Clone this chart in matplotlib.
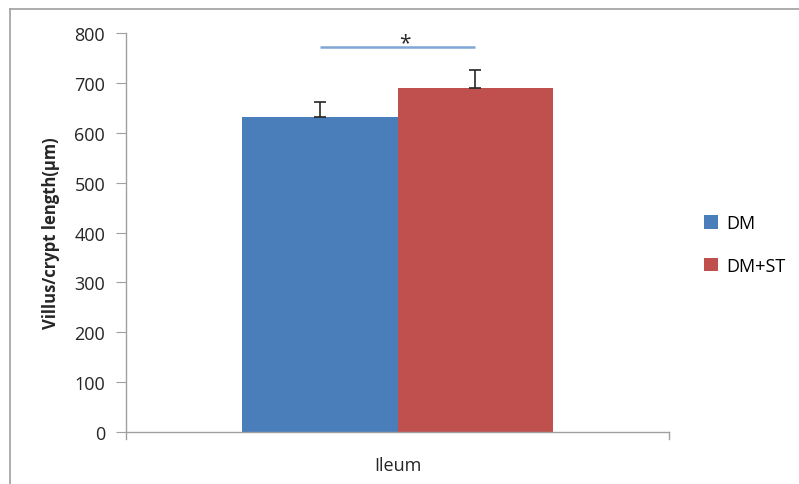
"""
Villus/crypt length in the ileum, DM vs DM+ST
"""

import matplotlib.pyplot as plt
from matplotlib.lines import Line2D

# ---------- Data ----------
groups = ["DM", "DM+ST"]
means = [631, 690]
errors = [30, 35]
category = "Ileum"
colors = ["#4A7EBB", "#C0504D"]
yticks = [0, 100, 200, 300, 400, 500, 600, 700, 800]

plt.rcParams['font.family'] = ['Open Sans', 'DejaVu Sans']

fig = plt.figure(figsize=(7.99, 4.85), dpi=100)
ax = fig.add_axes([0.1577, 0.1072, 0.6796, 0.8227])

# ---------- Bars ----------
width = 0.2855
offsets = [-width / 2, width / 2]
for g, m, e, c, off in zip(groups, means, errors, colors, offsets):
    ax.bar(off, m, width=width, color=c, label=g, zorder=2)
    ax.errorbar(off, m, yerr=[[0], [e]], fmt='none', ecolor='#262626',
                elinewidth=1.2, capsize=4, capthick=1.2, zorder=3)

# significance bar
ax.plot([-0.142, 0.142], [772, 772], color="#7FA6D6", linewidth=1.8,
        solid_capstyle='butt', clip_on=False)
ax.text(0.013, 759, "*", ha='center', va='bottom', fontsize=15,
        color="#262626")

ax.set_xlim(-0.5, 0.5)
ax.set_ylim(0, 800)
ax.set_yticks(yticks)
ax.set_xticks([0])
ax.set_xticklabels([category])
ax.tick_params(axis='x', length=0, pad=17, labelsize=13, colors="#262626")
ax.tick_params(axis='y', length=7, color="#A0A0A0", labelsize=13,
               labelcolor="#262626", pad=8)
ax.set_ylabel("Villus/crypt length(μm)", fontsize=12, fontweight='bold',
              color="#262626", labelpad=10)

for side in ['top', 'right']:
    ax.spines[side].set_visible(False)
for side in ['left', 'bottom']:
    ax.spines[side].set_color("#A0A0A0")
    ax.spines[side].set_linewidth(1.0)

# end ticks on the x axis
for xe in [-0.5, 0.5]:
    ax.plot([xe, xe], [0, -14], color="#A0A0A0", linewidth=1.0,
            clip_on=False)

# ---------- Legend ----------
ax.legend(loc='center left', bbox_to_anchor=(1.035, 0.47), frameon=False,
          fontsize=13, handlelength=0.75, handleheight=0.75,
          labelspacing=1.35, handletextpad=0.45)

# outer chart frame
fig.add_artist(Line2D([10 / 799, 10 / 799], [0, 1 - 10 / 485],
                      color="#A0A0A0", linewidth=1.2))
fig.add_artist(Line2D([10 / 799, 1], [1 - 10 / 485, 1 - 10 / 485],
                      color="#A0A0A0", linewidth=1.2))

fig.savefig("out.png", dpi=100)
